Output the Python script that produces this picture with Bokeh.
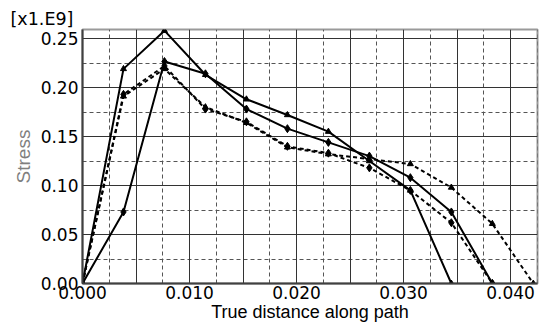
from bokeh.plotting import figure
from bokeh.models import Range1d, FixedTicker, Grid, NumeralTickFormatter
from bokeh.embed import file_html
from bokeh.resources import INLINE

# Node positions along the path (m) and stress values (x1.E9 Pa) for four frames
dist = [0.0, 0.00383, 0.00766, 0.01149, 0.01532, 0.01915, 0.02298,
        0.02681, 0.03064, 0.03447, 0.0383, 0.04213]
stress_a = [0.0, 0.219, 0.258, 0.213, 0.188, 0.172, 0.155, 0.125, 0.095, 0.0]
stress_b = [0.0, 0.073, 0.2265, 0.214, 0.178, 0.158, 0.144, 0.130, 0.108, 0.073, 0.0]
stress_c = [0.0, 0.191, 0.219, 0.180, 0.164, 0.139, 0.132, 0.127, 0.122, 0.098, 0.061, 0.0]
stress_d = [0.0, 0.193, 0.222, 0.178, 0.165, 0.140, 0.133, 0.118, 0.095, 0.062, 0.0]

# Tick / grid values
x_label_ticks = [0.0, 0.01, 0.02, 0.03, 0.04]
x_major_grid = [0.005, 0.01, 0.015, 0.02, 0.025, 0.03, 0.035, 0.04]
x_minor_grid = [0.0025, 0.0075, 0.0125, 0.0175, 0.0225, 0.0275, 0.0325, 0.0375, 0.0425]
y_label_ticks = [0.0, 0.05, 0.10, 0.15, 0.20, 0.25]
y_major_grid = [0.05, 0.10, 0.15, 0.20, 0.25]
y_minor_grid = [0.025, 0.075, 0.125, 0.175, 0.225]

p = figure(width=539, height=325, output_backend="svg", toolbar_location=None,
           x_range=Range1d(0, 0.04252), y_range=Range1d(0, 0.2592),
           min_border_left=82, min_border_right=2, min_border_top=29,
           min_border_bottom=42, title="[x1.E9]")
p.background_fill_color = "white"
p.border_fill_color = "white"
p.outline_line_color = "#9a9a9a"
p.outline_line_width = 2

# scale factor note above the y axis
p.title.align = "left"
p.title.offset = -72
p.title.standoff = 1
p.title.text_font = "DejaVu Sans"
p.title.text_font_size = "17.5px"
p.title.text_font_style = "normal"
p.title.text_color = "black"

# grids: solid at major spacing, dashed in between
p.xgrid.grid_line_color = None
p.ygrid.grid_line_color = None
for dim, ticks, dash, color in [
    (0, x_minor_grid, "4 3", "#555555"),
    (1, y_minor_grid, "4 3", "#555555"),
    (0, x_major_grid, "solid", "#333333"),
    (1, y_major_grid, "solid", "#333333"),
]:
    g = Grid(dimension=dim, ticker=FixedTicker(ticks=ticks),
             grid_line_color=color, grid_line_width=1, grid_line_dash=dash)
    p.add_layout(g)

for ax in (p.xaxis[0], p.yaxis[0]):
    ax.major_tick_out = 0
    ax.major_tick_in = 0
    ax.minor_tick_out = 0
    ax.minor_tick_in = 0
    ax.axis_line_color = "#404040"
    ax.axis_line_width = 2
    ax.major_label_text_font = "DejaVu Sans"
    ax.major_label_text_font_size = "17px"
    ax.major_label_text_color = "black"
    ax.axis_label_text_font = "Liberation Sans"
    ax.axis_label_text_font_style = "normal"

p.xaxis.ticker = FixedTicker(ticks=x_label_ticks)
p.xaxis.formatter = NumeralTickFormatter(format="0.000")
p.xaxis.major_label_standoff = 2
p.xaxis.axis_label = "True distance along path"
p.xaxis.axis_label_text_font_size = "18px"
p.xaxis.axis_label_text_color = "black"
p.xaxis.axis_label_standoff = 0

p.yaxis.ticker = FixedTicker(ticks=y_label_ticks)
p.yaxis.formatter = NumeralTickFormatter(format="0.00")
p.yaxis.major_label_standoff = 4
p.yaxis.axis_label = "Stress"
p.yaxis.axis_label_text_font_size = "19px"
p.yaxis.axis_label_text_color = "#7f7f7f"
p.yaxis.axis_label_standoff = 4

series = [
    (stress_a, "solid", "triangle", 6),
    (stress_b, "solid", "diamond", 8),
    (stress_c, "4 3", "triangle", 6),
    (stress_d, "4 3", "diamond", 8),
]
for vals, dash, marker, size in series:
    xs = dist[:len(vals)]
    p.line(xs, vals, line_color="black", line_width=2, line_dash=dash)
    p.scatter(xs, vals, marker=marker, size=size, fill_color="black",
              line_color="black")

open("out.html", "w").write(file_html(p, INLINE))
